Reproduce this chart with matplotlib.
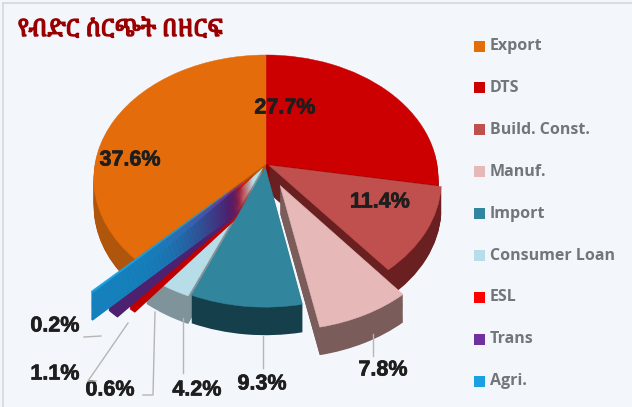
import matplotlib
matplotlib.use("Agg")
import matplotlib.pyplot as plt
from matplotlib import font_manager
from matplotlib.ft2font import FT2Font
from matplotlib.patches import Rectangle
from matplotlib.lines import Line2D
import matplotlib.transforms as mtransforms
import matplotlib.patheffects as pe
import numpy as np

# ---- data ----
title = "የብድር ስርጭት በዘርፍ"
categories = ["Export", "DTS", "Build. Const.", "Manuf.", "Import",
              "Consumer Loan", "ESL", "Trans", "Agri."]
values = [37.6, 27.7, 11.4, 7.8, 9.3, 4.2, 0.6, 1.1, 0.2]
pct_labels = ["37.6%", "27.7%", "11.4%", "7.8%", "9.3%", "4.2%", "0.6%", "1.1%", "0.2%"]

# ---- style ----
top_colors = ["#E46C0A", "#CC0000", "#C0504D", "#E6B9B8", "#31859C",
              "#B7DEE8", "#FF0000", "#7030A0", "#1BA1E2"]
side_colors = ["#B0560C", "#8E0000", "#6A2020", "#7A5C5B", "#163F4C",
               "#7E939A", "#C00000", "#4E2070", "#1580BB"]
explode = [0.0, 0.0, 0.02, 0.19, 0.03, 0.04, 0.12, 0.2, 0.3]

# find a font with Ethiopic glyphs
eth_font = None
for f in font_manager.fontManager.ttflist:
    try:
        cm = FT2Font(f.fname).get_charmap()
        if 0x12E8 in cm and 0x1265 in cm:
            eth_font = f.name
            if "Bold" in f.fname or f.weight in (700, "bold"):
                break
    except Exception:
        pass


class Perspective(mtransforms.Transform):
    """Simple projective tilt: back of the pie smaller, front larger."""
    input_dims = 2
    output_dims = 2
    is_separable = False

    def __init__(self, p):
        super().__init__()
        self.p = p

    def transform_non_affine(self, xy):
        xy = np.asarray(xy, dtype=float)
        d = 1 + self.p * xy[:, 1]
        return np.column_stack([xy[:, 0] / d, xy[:, 1] / d])


W, H = 632, 407
fig = plt.figure(figsize=(W / 100, H / 100), dpi=100)
fig.patch.set_facecolor("#F3F7FC")

# border lines (left & top)
fig.add_artist(Line2D([3 / W, 3 / W], [0, 1 - 3 / H], color="#D6D8DB", lw=1.2))
fig.add_artist(Line2D([3 / W, 1], [1 - 3 / H, 1 - 3 / H], color="#D6D8DB", lw=1.2))

# pie axes
ax_w_px, ax_h_px = 460, 407
ax = fig.add_axes([0, 0, ax_w_px / W, ax_h_px / H])
ax.set_facecolor("none")

cx_px, cy_px = 266, 164
sx_px = 171
sy_px = 122
depth_units = 28 / sy_px
n_layers = 30
persp = Perspective(0.119)

startangle = 90 + values[0] / sum(values) * 360
cum = np.cumsum([0] + values[:-1]) / sum(values) * 360
mids = startangle - (cum + np.array(values) / sum(values) * 180)
sin_mid = np.sin(np.radians(mids)) * (np.array(explode) + 0.5)
rank = np.argsort(np.argsort(-sin_mid))  # back first

for L in range(n_layers + 1):
    off = -depth_units * (1 - L / n_layers)
    is_top = (L == n_layers)
    wedges, _ = ax.pie(values, explode=explode, startangle=startangle,
                       counterclock=False,
                       colors=(top_colors if is_top else side_colors),
                       wedgeprops=dict(linewidth=0, antialiased=True))
    tr = persp + mtransforms.Affine2D().translate(0, off) + ax.transData
    for i, w in enumerate(wedges):
        w.set_transform(tr)
        w.set_zorder(rank[i] * 100 + L + (5 if is_top else 0))
        if is_top:
            w.set_edgecolor(top_colors[i])
            w.set_linewidth(0.3)

ax.set_aspect("auto")
ax.set_xlim(-cx_px / sx_px, (ax_w_px - cx_px) / sx_px)
ax.set_ylim(-(ax_h_px - cy_px) / sy_px, cy_px / sy_px)
ax.axis("off")

# ---- percentage labels ----
lab_font = dict(family="Liberation Sans", fontweight="bold", fontsize=15.5, color="#1E1E1E")
heavy = [pe.withStroke(linewidth=0.5, foreground="#1E1E1E")]
lab_pos = [(130, 160), (285, 108), (380, 202), (383, 370), (262, 384),
           (197, 390), (110, 390), (55, 374), (55, 326)]
for i, (x, y) in enumerate(lab_pos):
    t = fig.text(x / W, 1 - y / H, pct_labels[i], ha="center", va="center", **lab_font)
    t.set_path_effects(heavy)

# leader lines (figure pixels) for outside labels
leaders = {
    3: [(373, 334), (373, 356)],
    4: [(263, 336), (263, 368)],
    5: [(183, 318), (183, 373)],
    6: [(155, 312), (153, 395), (143, 395)],
    7: [(128, 323), (88, 381), (96, 381)],
    8: [(101, 336), (84, 337)],
}
for i, pts in leaders.items():
    xs = [p[0] / W for p in pts]
    ys = [1 - p[1] / H for p in pts]
    fig.add_artist(Line2D(xs, ys, color="#B5B5B5", lw=1.0, zorder=5))

# ---- title ----
tt = fig.text(18 / W, 1 - 30 / H, title, ha="left", va="center",
              family=[eth_font] if eth_font else ["DejaVu Sans"],
              fontsize=17, fontweight="bold", color="#9A0000")
tt.set_path_effects([pe.withStroke(linewidth=1.0, foreground="#9A0000")])

# ---- legend ----
leg_y0 = 46
leg_dy = 41.9
for i, name in enumerate(categories):
    y = leg_y0 + i * leg_dy
    fig.add_artist(Rectangle((474 / W, 1 - (y + 5.5) / H), 11 / W, 11 / H,
                             facecolor=top_colors[i], edgecolor="none",
                             transform=fig.transFigure))
    fig.text(490 / W, 1 - y / H, name, ha="left", va="center",
             family="Open Sans", fontweight="bold", fontsize=11.5, color="#72767B")

fig.savefig("out.png", dpi=100, facecolor=fig.get_facecolor())
